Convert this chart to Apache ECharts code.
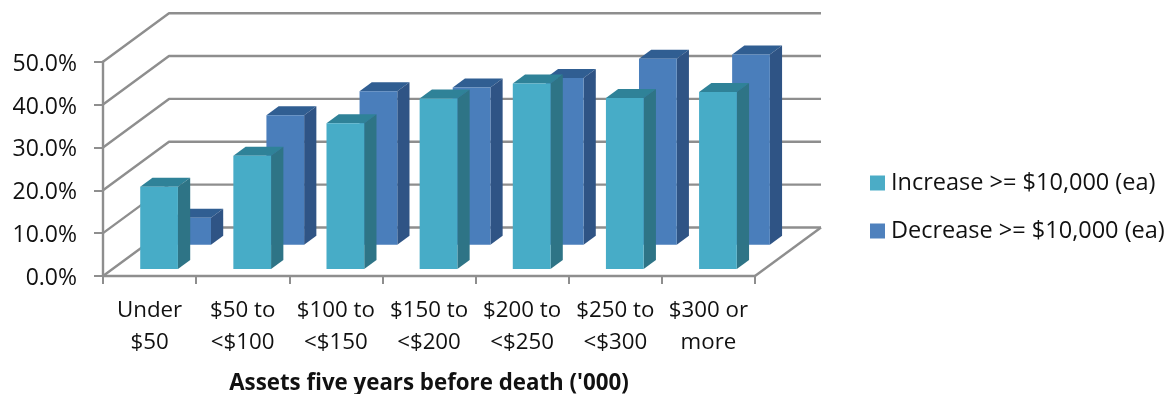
<!DOCTYPE html>
<html>
<head>
<meta charset="utf-8">
<style>html,body{margin:0;padding:0;background:#fff}#chart{width:1173px;height:394px}</style>
<script src="https://cdn.jsdelivr.net/npm/echarts@6/dist/echarts.min.js"></script>
</head>
<body>
<div id="chart"></div>
<script>
// Share of estates by asset band, drawn as an oblique 3D column chart.
const categories = ['Under\n$50', '$50 to\n<$100', '$100 to\n<$150', '$150 to\n<$200', '$200 to\n<$250', '$250 to\n<$300', '$300 or\nmore'];
const increaseValues = [19.2, 26.4, 34.0, 39.8, 43.3, 39.9, 41.3];
const decreaseValues = [6.3, 30.2, 35.8, 36.7, 38.9, 43.4, 44.4];
const valueTicks = [0, 10, 20, 30, 40, 50];
const increaseName = 'Increase >= $10,000 (ea)';
const decreaseName = 'Decrease >= $10,000 (ea)';
const axisTitle = "Assets five years before death ('000)";

// Oblique projection: one full unit of depth shifts a point right and up.
const DEPTH_X = 66, DEPTH_Y = -48.5;
const BAR_BAND = 0.405;
const LINE = '#8e8e8e';
const FONT = '"Open Sans", sans-serif';

function column(front, side, top, depthFrom, depthTo) {
  return function (params, api) {
    const cat = api.value(0), val = api.value(1);
    const half = api.size([1, 0])[0] * BAR_BAND / 2;
    const dx0 = DEPTH_X * depthFrom, dy0 = DEPTH_Y * depthFrom;
    const dx1 = DEPTH_X * depthTo, dy1 = DEPTH_Y * depthTo;
    const c0 = api.coord([cat, 0]), c1 = api.coord([cat, val]);
    const xl = c0[0] - half, xr = c0[0] + half;
    const a = [xl + dx0, c1[1] + dy0], b = [xr + dx0, c1[1] + dy0];
    const c = [xr + dx0, c0[1] + dy0], d = [xl + dx0, c0[1] + dy0];
    const e = [xl + dx1, c1[1] + dy1], f = [xr + dx1, c1[1] + dy1], g = [xr + dx1, c0[1] + dy1];
    return {
      type: 'group',
      children: [
        { type: 'polygon', shape: { points: [a, b, f, e] }, style: { fill: top } },
        { type: 'polygon', shape: { points: [b, f, g, c] }, style: { fill: side } },
        { type: 'polygon', shape: { points: [a, b, c, d] }, style: { fill: front } }
      ]
    };
  };
}

// Back wall rules, left wall diagonals and the floor edge.
function wallItem(params, api) {
  const value = api.value(0);
  const band = api.size([1, 0])[0];
  const y = api.coord([0, value])[1];
  const left = api.coord([0, value])[0] - band / 2;
  const right = api.coord([categories.length - 1, value])[0] + band / 2;
  const a = [left, y];
  const b = [left + DEPTH_X, y + DEPTH_Y];
  const c = [right + DEPTH_X, y + DEPTH_Y];
  const children = [
    { type: 'polyline', shape: { points: [a, b, c] }, style: { stroke: LINE, lineWidth: 2.4, fill: null, lineJoin: 'round' } }
  ];
  if (value === 0) {
    children.push({ type: 'line', shape: { x1: right, y1: y, x2: c[0], y2: c[1] }, style: { stroke: LINE, lineWidth: 2.4 } });
  }
  return { type: 'group', children };
}

const chart = echarts.init(document.getElementById('chart'), null, { renderer: 'canvas' });
chart.setOption({
  animation: false,
  backgroundColor: '#ffffff',
  grid: { left: 103, top: 61.7, width: 652, height: 214.3, containLabel: false, outerBoundsMode: 'none' },
  legend: {
    orient: 'vertical', left: 865, top: 166, itemWidth: 15, itemHeight: 15, itemGap: 24,
    icon: 'rect', selectedMode: false,
    textStyle: { fontFamily: FONT, fontSize: 23.5, color: '#111', padding: [0, 0, 0, 1] },
    data: [increaseName, decreaseName]
  },
  xAxis: {
    type: 'category', data: categories, boundaryGap: true,
    name: axisTitle, nameLocation: 'middle', nameGap: 97,
    nameTextStyle: { fontFamily: FONT, fontSize: 22.3, fontWeight: 'bold', color: '#111' },
    axisLine: { lineStyle: { color: LINE, width: 2.4 } },
    axisTick: { show: true, length: 8, alignWithLabel: false, lineStyle: { color: LINE, width: 2 } },
    axisLabel: { fontFamily: FONT, fontSize: 22.3, color: '#111', lineHeight: 32, margin: 19, interval: 0 }
  },
  yAxis: {
    type: 'value', min: 0, max: 50, interval: 10,
    axisLine: { show: true, lineStyle: { color: LINE, width: 2.4 } },
    axisTick: { show: true, length: 9, lineStyle: { color: LINE, width: 2 } },
    splitLine: { show: false },
    axisLabel: { fontFamily: FONT, fontSize: 23, color: '#111', margin: 26, verticalAlign: 'top', lineHeight: 5, formatter: v => v.toFixed(1) + '%' }
  },
  series: [
    {
      type: 'custom', name: 'walls', silent: true, z: 1, renderItem: wallItem,
      data: valueTicks.map(v => [v]), encode: { y: 0 }, clip: false
    },
    {
      type: 'custom', name: decreaseName, z: 2, clip: false,
      itemStyle: { color: '#4f81bd' },
      renderItem: column('#4a7ebb', '#2f5485', '#305e92', 0.645, 0.83),
      data: decreaseValues.map((v, i) => [i, v]), encode: { x: 0, y: 1 }
    },
    {
      type: 'custom', name: increaseName, z: 3, clip: false,
      itemStyle: { color: '#4bacc6' },
      renderItem: column('#47acc7', '#2e7486', '#2f8298', 0.144, 0.33),
      data: increaseValues.map((v, i) => [i, v]), encode: { x: 0, y: 1 }
    }
  ]
});
</script>
</body>
</html>
